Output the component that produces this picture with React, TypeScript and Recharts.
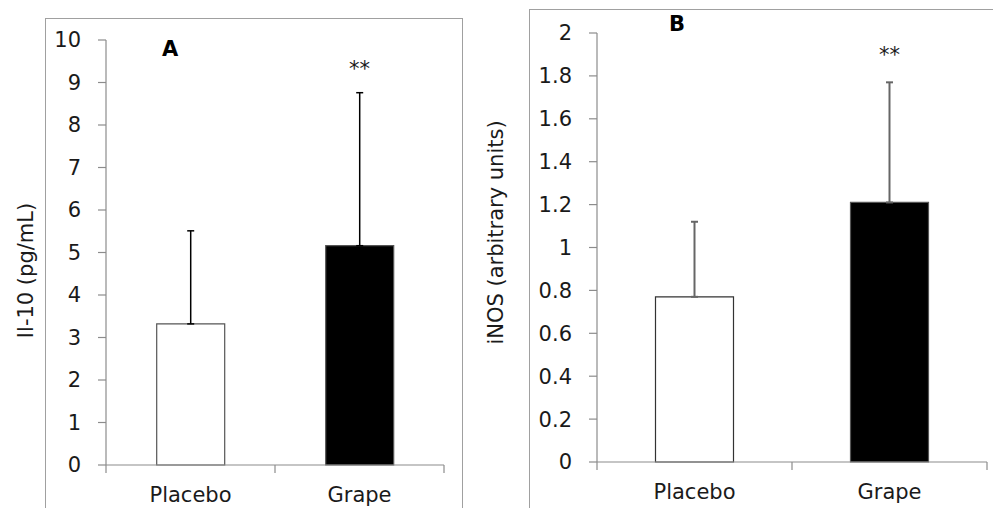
import React from "react";
import { BarChart, Bar, XAxis, YAxis, ErrorBar, Cell, ReferenceDot } from "recharts";

const categories = ["Placebo", "Grape"];
const il10Values = [3.32, 5.16];
const il10Errors = [2.19, 3.6];
const inosValues = [0.77, 1.21];
const inosErrors = [0.35, 0.56];
const il10Ticks = [0, 1, 2, 3, 4, 5, 6, 7, 8, 9, 10];
const inosTicks = [0, 0.2, 0.4, 0.6, 0.8, 1, 1.2, 1.4, 1.6, 1.8, 2];
const barFills = ["#ffffff", "#000000"];
const il10Star = 9.33;
const inosStar = 1.9;

const il10Data = categories.map((c, i) => ({ cat: c, v: il10Values[i], err: [0, il10Errors[i]] }));
const inosData = categories.map((c, i) => ({ cat: c, v: inosValues[i], err: [0, inosErrors[i]] }));

const FONT = "'DejaVu Sans', Verdana, sans-serif";
const AXIS = "#8c8c8c";
const TXT = "#1a1a1a";
const FS = 21;
const X_TICK_SIZE = 8;
const X_TICK_MARGIN = 14;
const Y_AXIS_W = 60;

const yTitle = (text: string, dx: number, dy: number) => (props: any) => {
  const vb = props.viewBox || {};
  const cx = dx;
  const cy = vb.y + vb.height / 2 + dy;
  return (
    <text
      x={cx}
      y={cy}
      transform={`rotate(-90, ${cx}, ${cy})`}
      textAnchor="middle"
      dominantBaseline="central"
      fontSize={FS}
      fill={TXT}
      fontFamily={FONT}
    >
      {text}
    </text>
  );
};

const makeEdgeTick = (plotWidth: number, count: number) => (props: any) => {
  const { x, y, payload, index } = props;
  const band = plotWidth / count;
  const half = band / 2;
  const axisY = y - X_TICK_SIZE - X_TICK_MARGIN;
  return (
    <g>
      {index === 0 && (
        <line x1={x - half} x2={x - half} y1={axisY} y2={axisY + X_TICK_SIZE} stroke={AXIS} strokeWidth={1.2} />
      )}
      <line x1={x + half} x2={x + half} y1={axisY} y2={axisY + X_TICK_SIZE} stroke={AXIS} strokeWidth={1.2} />
      <text x={x} y={y} dy="0.71em" textAnchor="middle" fontSize={FS} fill={TXT} fontFamily={FONT}>
        {payload.value}
      </text>
    </g>
  );
};

function Panel(props: {
  data: any[];
  ticks: number[];
  domain: [number, number];
  width: number;
  margin: any;
  xHeight: number;
  title: string;
  titleX: number;
  titleDy: number;
  starY: number;
  errStroke: string;
  errWidth: number;
  placeboStroke: string;
}) {
  const p = props;
  const plotWidth = p.width - p.margin.left - p.margin.right - Y_AXIS_W;
  return (
    <BarChart width={p.width} height={508} data={p.data} margin={p.margin} barCategoryGap="30%">
      <XAxis
        dataKey="cat"
        height={p.xHeight}
        axisLine={{ stroke: AXIS, strokeWidth: 1.2 }}
        tickLine={false}
        tickSize={X_TICK_SIZE}
        tickMargin={X_TICK_MARGIN}
        interval={0}
        tick={makeEdgeTick(plotWidth, p.data.length)}
      />
      <YAxis
        width={Y_AXIS_W}
        domain={p.domain}
        ticks={p.ticks}
        interval={0}
        tickSize={8}
        tickMargin={17}
        axisLine={{ stroke: AXIS, strokeWidth: 1.2 }}
        tickLine={{ stroke: AXIS, strokeWidth: 1.2 }}
        tick={{ fontSize: FS, fill: TXT, fontFamily: FONT }}
        label={{ content: yTitle(p.title, p.titleX, p.titleDy) } as any}
      />
      <Bar dataKey="v" isAnimationActive={false}>
        {p.data.map((d, i) => (
          <Cell
            key={d.cat}
            fill={barFills[i]}
            stroke={i === 0 ? p.placeboStroke : "#555"}
            strokeWidth={1.2}
          />
        ))}
        <ErrorBar
          dataKey="err"
          direction="y"
          width={3.5}
          stroke={p.errStroke}
          strokeWidth={p.errWidth}
          isAnimationActive={false}
        />
      </Bar>
      <ReferenceDot
        x="Grape"
        y={p.starY}
        r={0}
        fill="none"
        stroke="none"
        label={{ value: "**", position: "center", fontSize: FS, fill: TXT, fontFamily: FONT }}
      />
    </BarChart>
  );
}

export default function App() {
  return (
    <div
      style={{
        position: "fixed",
        left: 0,
        top: 0,
        width: 993,
        height: 508,
        overflow: "hidden",
        background: "#fff",
        fontFamily: FONT,
      }}
    >
      <div style={{ position: "absolute", left: 45, top: 18, width: 416, height: 600, border: "1px solid #a0a0a0" }} />
      <div style={{ position: "absolute", left: 529, top: 9, width: 600, height: 600, border: "1px solid #a0a0a0" }} />
      <div style={{ position: "absolute", left: 0, top: 0 }}>
        <Panel
          data={il10Data}
          ticks={il10Ticks}
          domain={[0, 10]}
          width={462}
          margin={{ top: 40, right: 18, bottom: 0, left: 46 }}
          xHeight={43}
          title="Il-10 (pg/mL)"
          titleX={26}
          titleDy={18}
          starY={il10Star}
          errStroke="#000"
          errWidth={1.5}
          placeboStroke="#555"
        />
      </div>
      <div style={{ position: "absolute", left: 462, top: 0 }}>
        <Panel
          data={inosData}
          ticks={inosTicks}
          domain={[0, 2]}
          width={531}
          margin={{ top: 33, right: 6, bottom: 0, left: 75 }}
          xHeight={46}
          title="iNOS (arbitrary units)"
          titleX={34}
          titleDy={-15}
          starY={inosStar}
          errStroke="#666"
          errWidth={2}
          placeboStroke="#333"
        />
      </div>
      <div style={{ position: "absolute", left: 162, top: 37, fontSize: FS, fontWeight: "bold", color: "#000" }}>A</div>
      <div style={{ position: "absolute", left: 669, top: 12, fontSize: FS, fontWeight: "bold", color: "#000" }}>B</div>
    </div>
  );
}
